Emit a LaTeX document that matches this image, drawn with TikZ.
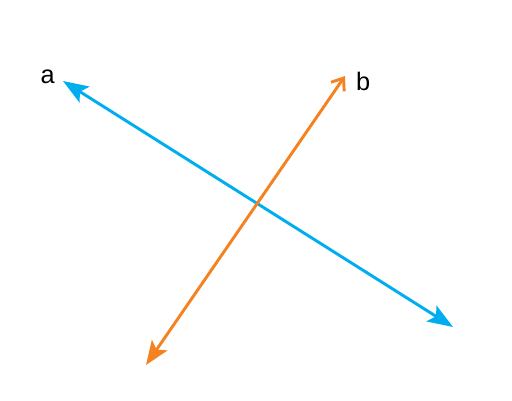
\documentclass[tikz,border=0pt]{standalone}
\usepackage{fontspec}
\setmainfont{Liberation Sans}
\usetikzlibrary{arrows.meta}
\definecolor{lineblue}{RGB}{0,174,239}
\definecolor{lineorange}{RGB}{245,130,32}
\tikzset{every picture/.style={line width=0.75pt}}
\tikzset{
  bluetip/.tip={Stealth[length=19pt,width=14pt,inset=4pt]},
  orangetip/.tip={Stealth[length=18pt,width=14pt,inset=4pt]},
  opentip/.tip={Straight Barb[length=8pt,width=12pt,line width=2.2pt]},
  lbl/.style={anchor=base west,inner sep=0pt,font=\fontsize{19}{22}\selectfont}
}
\begin{document}
\begin{tikzpicture}[x=0.75pt,y=0.75pt,yscale=-1,xscale=1]
    \useasboundingbox (0,0) rectangle (512,401);

    % End points
    \coordinate (a1) at (63,81);
    \coordinate (a2) at (453,327);
    \coordinate (b1) at (345,76);
    \coordinate (b2) at (146,365);

    %Straight Lines a
    \draw [color=lineblue,line width=2.2pt,bluetip-bluetip]    (a1) -- (a2) ;
    %Straight Lines b
    \draw [color=lineorange,line width=2.2pt,orangetip-opentip]    (b2) -- (b1) ;

    % Text Node
    \node [lbl] (la) at (40,83.3) {a};
    % Text Node
    \node [lbl] (lb) at (355.5,90.7) {b};

\end{tikzpicture}
\end{document}
